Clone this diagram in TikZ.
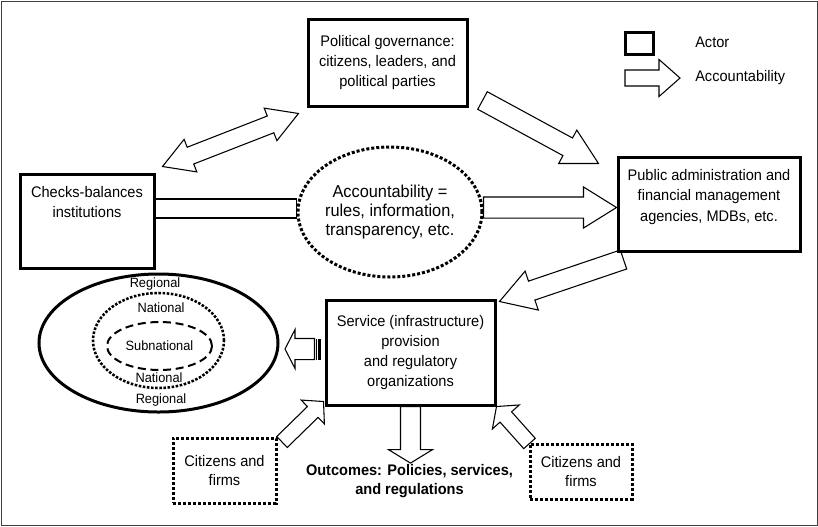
\documentclass[tikz,border=0pt]{standalone}
\usepackage{fontspec}
\setmainfont{Liberation Sans}[FakeStretch=0.95]
\usetikzlibrary{shapes.geometric,calc,backgrounds}

% outlined block arrow: from #2 to #3, half shaft #4, half head #5, head length #6
\newcommand{\blockarrow}[6][]{%
  \coordinate (ba-t) at (#2);
  \coordinate (ba-e) at (#3);
  \coordinate (ba-h) at ($(ba-e)!#6!(ba-t)$);
  \draw[accarrow,#1] ($(ba-t)!#4!90:(ba-e)$) -- ($(ba-h)!#4!90:(ba-e)$)
    -- ($(ba-h)!#5!90:(ba-e)$) -- (ba-e) -- ($(ba-h)!#5!-90:(ba-e)$)
    -- ($(ba-h)!#4!-90:(ba-e)$) -- ($(ba-t)!#4!-90:(ba-e)$) -- cycle;
}
% same, with a head at both ends
\newcommand{\blockdarrow}[6][]{%
  \coordinate (ba-t) at (#2);
  \coordinate (ba-e) at (#3);
  \coordinate (ba-h) at ($(ba-e)!#6!(ba-t)$);
  \coordinate (ba-g) at ($(ba-t)!#6!(ba-e)$);
  \draw[accarrow,#1] (ba-t) -- ($(ba-g)!#5!90:(ba-e)$) -- ($(ba-g)!#4!90:(ba-e)$)
    -- ($(ba-h)!#4!90:(ba-e)$) -- ($(ba-h)!#5!90:(ba-e)$) -- (ba-e)
    -- ($(ba-h)!#5!-90:(ba-e)$) -- ($(ba-h)!#4!-90:(ba-e)$)
    -- ($(ba-g)!#4!-90:(ba-e)$) -- ($(ba-g)!#5!-90:(ba-e)$) -- cycle;
}

\begin{document}
\begin{tikzpicture}[x=0.75pt, y=-0.75pt,
    font=\fontsize{11.5pt}{14.8pt}\selectfont,
    actor/.style={rectangle, draw=black, line width=2.25pt, fill=white, align=center},
    dotbox/.style={rectangle, draw=black, line width=2.25pt, dash pattern=on 2.25pt off 1.5pt, fill=white, align=center},
    accarrow/.style={draw=black, line width=0.8pt, fill=white, line join=miter},
    levellabel/.style={inner sep=0pt, font=\fontsize{10.1pt}{12pt}\selectfont},
    outerframe/.style={draw=black!75, line width=0.75pt}
  ]
  \useasboundingbox (0,0) rectangle (818,526);
  \draw[outerframe] (1,1) rectangle (817,525);

  % Actors
  \node[actor, minimum width=119.25pt, minimum height=65.25pt] (polgov) at (387.5,62.5) {Political governance:\\citizens, leaders, and\\political parties};
  \node[actor, minimum width=100.5pt, minimum height=70.5pt] (checks) at (87,221) {Checks-balances\\institutions\\[14.2pt]\mbox{}};
  \node[actor, minimum width=136.5pt, minimum height=70.5pt, font=\fontsize{11.5pt}{15.5pt}\selectfont] (pubadm) at (709,204) {Public administration and\\financial management\\agencies, MDBs, etc.\\[-2.5pt]\mbox{}};
  \node[actor, minimum width=126.75pt, minimum height=78.75pt] (service) at (410.5,352.5) {Service (infrastructure)\\provision\\and regulatory\\organizations};

  % Accountability ellipse
  \node[ellipse, draw=black, line width=2.25pt, dash pattern=on 2.25pt off 1.5pt, fill=white, inner xsep=-6pt, inner ysep=0pt,
        minimum width=138pt, minimum height=97.5pt, align=center, font=\fontsize{12.9pt}{14.2pt}\selectfont] (acct) at (390,212) {Accountability =\\rules, information,\\transparency, etc.};

  % Levels
  \node[ellipse, draw=black, line width=2.25pt, fill=white, minimum width=179.25pt, minimum height=103.5pt] (levels) at (158.5,343) {};
  \node[ellipse, draw=black, line width=1.9pt, dash pattern=on 1.9pt off 1.2pt, minimum width=98.25pt, minimum height=71.25pt] (national) at (158.5,340.5) {};
  \node[ellipse, draw=black, line width=1.5pt, dash pattern=on 6pt off 3.5pt, levellabel, minimum width=78.75pt, minimum height=36pt] (subnat) at (159.5,346) {Subnational};
  \node[levellabel] (regtop) at (155,284) {Regional};
  \node[levellabel] (nattop) at (161,308) {National};
  \node[levellabel] (natbot) at (159,378) {National};
  \node[levellabel] (regbot) at (161,400) {Regional};

  % Citizens and outcomes
  \node[dotbox, minimum width=77.25pt, minimum height=48.75pt] (citizensa) at (224.5,470.5) {Citizens and\\firms};
  \node[dotbox, minimum width=76.5pt, minimum height=41.25pt] (citizensb) at (581,471.5) {Citizens and\\firms};
  \node[font=\fontsize{11.5pt}{13.7pt}\bfseries, inner sep=1pt, align=center] (outcomes) at (409.5,481) {Outcomes: Policies, services,\\and regulations};

  % Legend
  \node[actor, minimum width=21pt, minimum height=16.5pt, inner sep=0pt] (legactor) at (639,43) {};
  \node[anchor=west, inner sep=0pt] (legactortext) at (695,42) {Actor};
  \coordinate (legtail) at (625,78);
  \coordinate (legtip) at (680,78);
  \node[anchor=west, inner sep=0pt] (legarrowtext) at (695,78) {Accountability};

  % Accountability arrows
  \begin{scope}[on background layer]
    \blockarrow{legtail}{legtip}{6pt}{13.9pt}{15.75pt}
    \blockdarrow{[shift={(7,-6)}]checks.north east}{[shift={(-8,6)}]polgov.south west}{6.75pt}{13.1pt}{22.5pt}
    \blockarrow{[shift={(14,-7)}]polgov.south east}{[shift={(-18,8)}]pubadm.north west}{7.5pt}{14.25pt}{26.25pt}
    \coordinate (barin) at ([shift={(0,-12.5)}]checks.east);
    \coordinate (barout) at (acct.west |- barin);
    \draw[accarrow] ([shift={(0,-9.5)}]barin) rectangle ([shift={(0,9.5)}]barout);
    \coordinate (acctout) at ([shift={(0,-4.5)}]acct.east);
    \blockarrow{acctout}{pubadm.west |- acctout}{7.9pt}{15.4pt}{24.75pt}
    \blockarrow{[shift={(7,7)}]pubadm.south west}{[shift={(3,3)}]service.north east}{7.5pt}{15.4pt}{25.5pt}
    \coordinate (stripein) at ([shift={(-10,-3.5)}]service.west);
    \coordinate (stripeout) at ($(levels.east |- stripein)+(5.5,0)$);
    \blockarrow{stripein}{stripeout}{7.9pt}{14.6pt}{7.5pt}
    \fill ([shift={(1,-10.5)}]stripein) rectangle ([shift={(2.2,10.5)}]stripein);
    \fill ([shift={(3.4,-10.5)}]stripein) rectangle ([shift={(6.5,10.5)}]stripein);
    \blockarrow{service.south}{service.south |- outcomes.north}{7.5pt}{16.5pt}{10.1pt}
    \blockarrow{[shift={(4.5,5.5)}]citizensa.north east}{[shift={(-1,-5)}]service.south west}{5.7pt}{12.5pt}{11.25pt}
    \blockarrow{[shift={(1,1)}]citizensb.north west}{service.south east}{5.8pt}{13.5pt}{10.5pt}
  \end{scope}
\end{tikzpicture}
\end{document}
